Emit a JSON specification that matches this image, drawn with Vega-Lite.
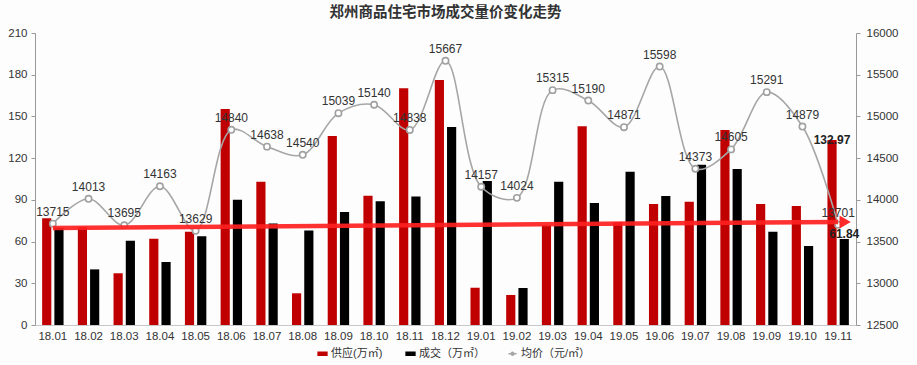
{
  "$schema": "https://vega.github.io/schema/vega-lite/v6.json",
  "width": 821,
  "height": 292,
  "autosize": {"type": "none"},
  "padding": {"left": 35, "top": 33, "right": 61, "bottom": 40},
  "background": "#fdfdfd",
  "config": {
    "font": "Liberation Sans, Noto Sans CJK SC, sans-serif",
    "view": {"stroke": null},
    "axis": {"grid": false, "labelColor": "#333", "labelFontSize": 11.5, "domainColor": "#999", "tickColor": "#999"}
  },
  "title": {"text": "郑州商品住宅市场成交量价变化走势", "fontSize": 14.5, "fontWeight": "bold", "color": "#333", "font": "Noto Sans CJK SC", "offset": 7},
  "datasets": {
    "bars": [
      {"month": "18.01", "series": "供应(万㎡)", "value": 76.7}, {"month": "18.01", "series": "成交（万㎡）", "value": 70},
      {"month": "18.02", "series": "供应(万㎡)", "value": 70.5}, {"month": "18.02", "series": "成交（万㎡）", "value": 40},
      {"month": "18.03", "series": "供应(万㎡)", "value": 37.2}, {"month": "18.03", "series": "成交（万㎡）", "value": 60.6},
      {"month": "18.04", "series": "供应(万㎡)", "value": 62}, {"month": "18.04", "series": "成交（万㎡）", "value": 45.3},
      {"month": "18.05", "series": "供应(万㎡)", "value": 67}, {"month": "18.05", "series": "成交（万㎡）", "value": 63.8},
      {"month": "18.06", "series": "供应(万㎡)", "value": 155.3}, {"month": "18.06", "series": "成交（万㎡）", "value": 90.1},
      {"month": "18.07", "series": "供应(万㎡)", "value": 103}, {"month": "18.07", "series": "成交（万㎡）", "value": 73},
      {"month": "18.08", "series": "供应(万㎡)", "value": 22.8}, {"month": "18.08", "series": "成交（万㎡）", "value": 68},
      {"month": "18.09", "series": "供应(万㎡)", "value": 135.9}, {"month": "18.09", "series": "成交（万㎡）", "value": 81.3},
      {"month": "18.10", "series": "供应(万㎡)", "value": 93}, {"month": "18.10", "series": "成交（万㎡）", "value": 89},
      {"month": "18.11", "series": "供应(万㎡)", "value": 170.2}, {"month": "18.11", "series": "成交（万㎡）", "value": 92.5},
      {"month": "18.12", "series": "供应(万㎡)", "value": 176.2}, {"month": "18.12", "series": "成交（万㎡）", "value": 142.4},
      {"month": "19.01", "series": "供应(万㎡)", "value": 26.8}, {"month": "19.01", "series": "成交（万㎡）", "value": 103.6},
      {"month": "19.02", "series": "供应(万㎡)", "value": 21.6}, {"month": "19.02", "series": "成交（万㎡）", "value": 26.6},
      {"month": "19.03", "series": "供应(万㎡)", "value": 71.7}, {"month": "19.03", "series": "成交（万㎡）", "value": 103},
      {"month": "19.04", "series": "供应(万㎡)", "value": 142.9}, {"month": "19.04", "series": "成交（万㎡）", "value": 87.7},
      {"month": "19.05", "series": "供应(万㎡)", "value": 74}, {"month": "19.05", "series": "成交（万㎡）", "value": 110.3},
      {"month": "19.06", "series": "供应(万㎡)", "value": 87}, {"month": "19.06", "series": "成交（万㎡）", "value": 92.8},
      {"month": "19.07", "series": "供应(万㎡)", "value": 88.7}, {"month": "19.07", "series": "成交（万㎡）", "value": 115.3},
      {"month": "19.08", "series": "供应(万㎡)", "value": 140.2}, {"month": "19.08", "series": "成交（万㎡）", "value": 112.2},
      {"month": "19.09", "series": "供应(万㎡)", "value": 87}, {"month": "19.09", "series": "成交（万㎡）", "value": 67.1},
      {"month": "19.10", "series": "供应(万㎡)", "value": 85.6}, {"month": "19.10", "series": "成交（万㎡）", "value": 56.8},
      {"month": "19.11", "series": "供应(万㎡)", "value": 132.97, "label": "132.97"}, {"month": "19.11", "series": "成交（万㎡）", "value": 61.84, "label": "61.84"}
    ],
    "price": [
      {"month": "18.01", "series": "均价（元/㎡）", "price": 13715},
      {"month": "18.02", "series": "均价（元/㎡）", "price": 14013},
      {"month": "18.03", "series": "均价（元/㎡）", "price": 13695},
      {"month": "18.04", "series": "均价（元/㎡）", "price": 14163},
      {"month": "18.05", "series": "均价（元/㎡）", "price": 13629},
      {"month": "18.06", "series": "均价（元/㎡）", "price": 14840},
      {"month": "18.07", "series": "均价（元/㎡）", "price": 14638},
      {"month": "18.08", "series": "均价（元/㎡）", "price": 14540},
      {"month": "18.09", "series": "均价（元/㎡）", "price": 15039},
      {"month": "18.10", "series": "均价（元/㎡）", "price": 15140},
      {"month": "18.11", "series": "均价（元/㎡）", "price": 14838},
      {"month": "18.12", "series": "均价（元/㎡）", "price": 15667},
      {"month": "19.01", "series": "均价（元/㎡）", "price": 14157},
      {"month": "19.02", "series": "均价（元/㎡）", "price": 14024},
      {"month": "19.03", "series": "均价（元/㎡）", "price": 15315},
      {"month": "19.04", "series": "均价（元/㎡）", "price": 15190},
      {"month": "19.05", "series": "均价（元/㎡）", "price": 14871},
      {"month": "19.06", "series": "均价（元/㎡）", "price": 15598},
      {"month": "19.07", "series": "均价（元/㎡）", "price": 14373},
      {"month": "19.08", "series": "均价（元/㎡）", "price": 14605},
      {"month": "19.09", "series": "均价（元/㎡）", "price": 15291},
      {"month": "19.10", "series": "均价（元/㎡）", "price": 14879},
      {"month": "19.11", "series": "均价（元/㎡）", "price": 13701}
    ],
    "trend": [
      {"month": "18.01", "value": 73.0},
      {"month": "19.11", "value": 77.6}
    ]
  },
  "encoding": {
    "x": {
      "field": "month", "type": "ordinal",
      "scale": {"paddingInner": 0.4, "paddingOuter": 0.2},
      "axis": {"title": null, "labelAngle": 0, "ticks": false, "domainColor": "#c8c8c8", "labelPadding": 5}
    }
  },
  "layer": [
    {
      "data": {"name": "bars"},
      "mark": {"type": "bar"},
      "encoding": {
        "xOffset": {"field": "series", "type": "nominal", "sort": ["供应(万㎡)", "成交（万㎡）"], "scale": {"paddingInner": 0.25}},
        "y": {"field": "value", "type": "quantitative", "scale": {"domain": [0, 210]}, "axis": {"orient": "left", "title": null, "values": [0, 30, 60, 90, 120, 150, 180, 210], "tickSize": 4, "labelPadding": 4}},
        "color": {
          "field": "series", "type": "nominal",
          "scale": {"domain": ["供应(万㎡)", "成交（万㎡）", "均价（元/㎡）"], "range": ["#c00000", "#000000", "#a6a6a6"]},
          "legend": {
            "title": null, "orient": "none", "legendX": 282, "legendY": 315, "direction": "horizontal",
            "labelFontSize": 11, "labelColor": "#333", "columnPadding": 20, "symbolSize": 81, "labelOffset": 3,
            "encode": {
              "symbols": {
                "update": {
                  "shape": {"signal": "datum.value === '均价（元/㎡）' ? 'M-0.9,0H-0.33M0.33,0H0.9M0.33,0A0.33,0.33 0 1,1 -0.33,0A0.33,0.33 0 1,1 0.33,0' : 'M-1,-0.33H1V0.33H-1Z'"},
                  "fill": {"signal": "datum.value === '均价（元/㎡）' ? '#ffffff' : (datum.value === '供应(万㎡)' ? '#c00000' : '#000000')"},
                  "stroke": {"signal": "datum.value === '均价（元/㎡）' ? '#a6a6a6' : 'transparent'"},
                  "strokeWidth": {"value": 1.3},
                  "opacity": {"value": 1}
                }
              }
            }
          }
        }
      }
    },
    {
      "data": {"name": "price"},
      "layer": [
        {
          "mark": {"type": "line", "interpolate": "catmull-rom", "strokeWidth": 1.6},
          "encoding": {
            "y": {"field": "price", "type": "quantitative", "scale": {"domain": [12500, 16000]}, "axis": {"orient": "right", "title": null, "format": "d", "values": [12500, 13000, 13500, 14000, 14500, 15000, 15500, 16000], "tickSize": 4, "labelPadding": 6}},
            "color": {"field": "series", "type": "nominal"}
          }
        },
        {
          "mark": {"type": "point", "shape": "circle", "filled": true, "fill": "#ffffff", "stroke": "#a0a0a0", "strokeWidth": 1.6, "size": 40, "opacity": 1},
          "encoding": {"y": {"field": "price", "type": "quantitative"}}
        },
        {
          "mark": {"type": "text", "dy": -12, "fontSize": 12, "color": "#333"},
          "encoding": {"y": {"field": "price", "type": "quantitative"}, "text": {"field": "price", "type": "quantitative", "format": "d"}}
        }
      ]
    },
    {
      "layer": [
        {
          "data": {"name": "trend"},
          "mark": {"type": "line", "color": "#ff2020", "strokeWidth": 4.5, "opacity": 0.92, "strokeCap": "butt"},
          "encoding": {"y": {"field": "value", "type": "quantitative", "scale": {"domain": [0, 210]}, "axis": null}}
        },
        {
          "data": {"name": "trend"},
          "transform": [{"filter": "datum.month === '19.11'"}],
          "mark": {"type": "point", "shape": "triangle-right", "filled": true, "color": "#ff2020", "size": 170, "opacity": 0.95, "xOffset": 7},
          "encoding": {"y": {"field": "value", "type": "quantitative"}}
        },
        {
          "data": {"name": "bars"},
          "transform": [{"filter": "datum.label != null"}],
          "mark": {"type": "text", "dy": -9, "fontSize": 12, "fontWeight": "bold", "color": "#222"},
          "encoding": {
            "xOffset": {"field": "series", "type": "nominal", "sort": ["供应(万㎡)", "成交（万㎡）"], "scale": {"paddingInner": 0.25}},
            "y": {"field": "value", "type": "quantitative"},
            "text": {"field": "label", "type": "nominal"}
          }
        }
      ]
    }
  ],
  "resolve": {"scale": {"y": "independent"}}
}
